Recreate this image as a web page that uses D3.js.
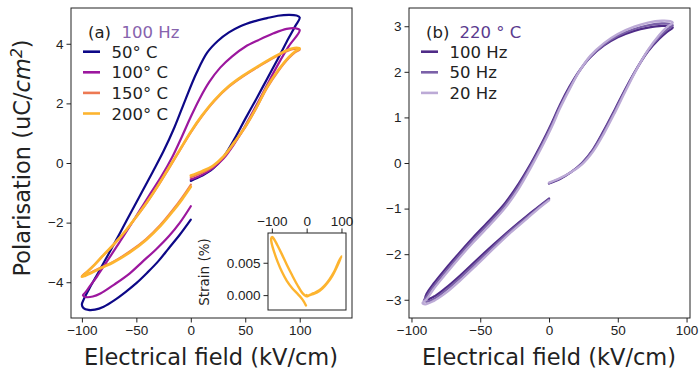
<!DOCTYPE html>
<html>
<head>
<meta charset="utf-8">
<script src="https://cdn.jsdelivr.net/npm/d3@7"></script>
<style>
  body { margin: 0; background: #fff; }
  svg { font-family: "DejaVu Sans", sans-serif; }
  .tick text { font-size: 13.5px; fill: #222; }
  .tick line { stroke: #222; }
</style>
</head>
<body>
<svg id="chart" width="700" height="373"></svg>
<script>
// ---- panel (a): 100 Hz, temperature series  [E (kV/cm), P (uC/cm2)]
const loop50C = [
  [0,-0.6],[10,-0.43],[20,-0.2],[30,0.2],[40,0.8],[50,1.48],[60,2.14],[70,2.82],[80,3.5],[90,4.2],[96,4.6],[100,4.88],
  [97,4.95],[90,4.97],[80,4.94],[70,4.86],[58,4.75],[45,4.58],[35,4.38],[25,4.1],[15,3.7],[5,3.0],[-5,2.12],[-15,1.2],
  [-25,0.4],[-35,-0.3],[-45,-0.98],[-55,-1.66],[-65,-2.35],[-75,-3.02],[-85,-3.68],[-93,-4.2],[-98,-4.55],[-100,-4.75],
  [-98.5,-4.87],[-94,-4.93],[-88,-4.92],[-80,-4.82],[-70,-4.6],[-60,-4.33],[-50,-4.03],[-40,-3.68],[-30,-3.3],
  [-20,-2.85],[-10,-2.4],[0,-1.9]
];
const loop100C = [
  [0,-0.55],[10,-0.4],[20,-0.18],[30,0.15],[40,0.65],[50,1.25],[60,1.92],[70,2.62],[80,3.3],[90,3.92],[100,4.46],
  [96,4.52],[88,4.5],[76,4.35],[62,4.12],[50,3.9],[38,3.58],[27,3.2],[17,2.72],[8,2.15],[0,1.55],[-8,0.9],[-17,0.2],
  [-27,-0.45],[-37,-1.02],[-47,-1.6],[-57,-2.18],[-67,-2.75],[-77,-3.3],[-86,-3.8],[-93,-4.15],[-97,-4.35],[-99,-4.44],
  [-96,-4.5],[-90,-4.48],[-83,-4.38],[-70,-4.07],[-56,-3.7],[-44,-3.3],[-32,-2.9],[-20,-2.45],[-10,-2.0],[0,-1.45]
];
const loop150C = [
  [0,-0.48],[10,-0.33],[20,-0.13],[30,0.2],[40,0.67],[50,1.2],[60,1.83],[70,2.52],[80,3.07],[90,3.52],[96,3.72],[100,3.8],
  [95,3.83],[88,3.75],[76,3.53],[62,3.23],[48,2.91],[35,2.56],[22,2.1],[10,1.56],[0,1.03],[-10,0.43],[-20,-0.17],
  [-30,-0.76],[-40,-1.31],[-50,-1.81],[-60,-2.29],[-70,-2.71],[-80,-3.09],[-88,-3.4],[-95,-3.64],[-99,-3.76],[-100,-3.8],
  [-97,-3.76],[-92,-3.68],[-82,-3.5],[-71,-3.31],[-56,-2.97],[-41,-2.55],[-28,-2.08],[-16,-1.55],[-8,-1.16],[0,-0.73]
];
const loop200C = [
  [0,-0.42],[10,-0.28],[20,-0.1],[30,0.22],[40,0.7],[50,1.22],[60,1.85],[70,2.55],[80,3.1],[90,3.55],[96,3.75],[100,3.84],
  [95,3.86],[88,3.78],[76,3.55],[62,3.25],[48,2.93],[35,2.58],[22,2.12],[10,1.58],[0,1.05],[-10,0.45],[-20,-0.15],
  [-30,-0.75],[-40,-1.3],[-50,-1.8],[-60,-2.28],[-70,-2.7],[-80,-3.08],[-88,-3.4],[-95,-3.65],[-99,-3.78],[-100,-3.82],
  [-97,-3.78],[-92,-3.7],[-82,-3.52],[-71,-3.33],[-56,-3.0],[-41,-2.58],[-28,-2.12],[-16,-1.6],[-8,-1.22],[0,-0.8]
];
const tempLabels = ["50° C", "100° C", "150° C", "200° C"];
const tempColors = ["#0d0887", "#9c179e", "#ed7953", "#fdb42f"];

// ---- inset: strain at 200 C  [E (kV/cm), strain (%)]
const strain200C = [
  [0,0.0],[3,-0.0001],[15,0.0001],[30,0.0004],[45,0.001],[60,0.0019],[75,0.0031],[88,0.0045],[100,0.006],
  [92,0.0052],[80,0.0037],[65,0.0024],[50,0.0014],[35,0.0007],[20,0.0003],[8,0.0],[0,-0.0002],
  [-12,0.0003],[-27,0.0016],[-42,0.0031],[-57,0.0047],[-71,0.0063],[-84,0.0077],[-93,0.0086],[-99,0.009],
  [-102,0.0087],[-100,0.0079],[-93,0.0066],[-83,0.0051],[-71,0.0036],[-57,0.0022],[-42,0.0011],[-28,0.0003],
  [-16,-0.0004],[-8,-0.001],[-2,-0.0016]
];

// ---- panel (b): 220 C, frequency series
const loop100Hz = [
  [0,-0.45],[8,-0.35],[16,-0.2],[24,0.0],[32,0.3],[40,0.72],[48,1.18],[56,1.65],[64,2.08],[72,2.45],[80,2.72],[86,2.88],[90,2.97],
  [88,3.0],[82,3.01],[72,2.97],[62,2.9],[50,2.76],[40,2.58],[30,2.32],[22,2.02],[15,1.68],[8,1.28],[2,0.88],[-5,0.45],[-13,0.0],
  [-22,-0.45],[-32,-0.88],[-43,-1.25],[-55,-1.63],[-66,-2.0],[-76,-2.35],[-84,-2.65],[-89,-2.87],[-90,-2.97],
  [-88,-2.99],[-83,-2.92],[-75,-2.74],[-65,-2.48],[-53,-2.14],[-40,-1.78],[-28,-1.46],[-16,-1.16],[-8,-0.97],[0,-0.78]
];
const loop50Hz = [
  [0,-0.44],[8,-0.34],[16,-0.2],[24,-0.01],[32,0.28],[40,0.69],[48,1.15],[56,1.63],[64,2.08],[72,2.47],[80,2.76],[86,2.93],[90,3.02],
  [88,3.05],[82,3.06],[72,3.02],[62,2.94],[50,2.79],[40,2.6],[30,2.33],[22,2.01],[15,1.65],[8,1.24],[2,0.84],[-5,0.41],[-13,-0.04],
  [-22,-0.5],[-32,-0.93],[-43,-1.3],[-55,-1.68],[-66,-2.05],[-76,-2.41],[-84,-2.71],[-89,-2.93],[-91,-3.02],
  [-89,-3.04],[-83,-2.97],[-75,-2.79],[-65,-2.53],[-53,-2.19],[-40,-1.82],[-28,-1.49],[-16,-1.19],[-8,-0.99],[0,-0.8]
];
const loop20Hz = [
  [0,-0.43],[8,-0.33],[16,-0.2],[24,-0.03],[32,0.25],[40,0.65],[48,1.11],[56,1.6],[64,2.07],[72,2.48],[80,2.8],[86,2.99],[90,3.08],
  [88,3.11],[82,3.12],[72,3.08],[62,2.99],[50,2.83],[40,2.63],[30,2.35],[22,2.01],[15,1.62],[8,1.2],[2,0.79],[-5,0.36],[-13,-0.09],
  [-22,-0.56],[-32,-0.99],[-43,-1.36],[-55,-1.74],[-66,-2.11],[-76,-2.47],[-84,-2.77],[-89,-2.99],[-92,-3.07],
  [-90,-3.1],[-84,-3.03],[-75,-2.85],[-65,-2.59],[-53,-2.25],[-40,-1.87],[-28,-1.53],[-16,-1.22],[-8,-1.01],[0,-0.82]
];
const freqLabels = ["100 Hz", "50 Hz", "20 Hz"];
const freqColors = ["#4f2b87", "#7b61a8", "#bcaad6"];

const xTicks = [-100, -50, 0, 50, 100];
const yTicksA = [-4, -2, 0, 2, 4];
const yTicksB = [-3, -2, -1, 0, 1, 2, 3];
const xTicksInset = [-100, 0, 100];
const yTicksInset = [0, 0.005];

const svg = d3.select("#chart");

// scales
const xA = d3.scaleLinear().domain([-110, 148]).range([71, 352]);
const yA = d3.scaleLinear().domain([-5.2, 5.2]).range([318, 8]);
const xB = d3.scaleLinear().domain([-101.8, 102.5]).range([409, 690]);
const yB = d3.scaleLinear().domain([-3.4, 3.4]).range([318, 8]);
const xI = d3.scaleLinear().domain([-111, 113]).range([268, 346]);
const yI = d3.scaleLinear().domain([-0.0023, 0.0096]).range([310, 233]);

// clip for the inset
svg.append("defs").append("clipPath").attr("id", "clipInset")
    .append("rect").attr("x", 268).attr("y", 233).attr("width", 78).attr("height", 77);

function drawLoop(x, y, data, color, width, clip) {
    const line = d3.line()
        .x(d => x(d[0]))
        .y(d => y(d[1]))
        .curve(d3.curveCatmullRom.alpha(0.5));
    const p = svg.append("path")
        .datum(data)
        .attr("fill", "none")
        .attr("stroke", color)
        .attr("stroke-width", width)
        .attr("stroke-linejoin", "round")
        .attr("stroke-linecap", "round")
        .attr("d", line);
    if (clip) p.attr("clip-path", "url(#" + clip + ")");
}

function frame(x, y) {
    svg.append("rect")
        .attr("x", x.range()[0]).attr("y", y.range()[1])
        .attr("width", x.range()[1] - x.range()[0])
        .attr("height", y.range()[0] - y.range()[1])
        .attr("fill", "none").attr("stroke", "#222").attr("stroke-width", 1);
}

function axes(x, y, xt, yt, opts) {
    const fmt = opts.yFormat || d3.format("d");
    const gx = svg.append("g")
        .attr("transform", "translate(0," + (opts.xTop ? y.range()[1] : y.range()[0]) + ")")
        .call((opts.xTop ? d3.axisTop(x) : d3.axisBottom(x)).tickValues(xt).tickFormat(d3.format("d")).tickSize(4.5).tickPadding(3));
    gx.select(".domain").remove();
    const gy = svg.append("g")
        .attr("transform", "translate(" + x.range()[0] + ",0)")
        .call(d3.axisLeft(y).tickValues(yt).tickFormat(fmt).tickSize(4.5).tickPadding(3));
    gy.select(".domain").remove();
}

// panel (a)
const loopsA = [loop50C, loop100C, loop150C, loop200C];
loopsA.forEach((d, i) => drawLoop(xA, yA, d, tempColors[i], i === 3 ? 2.6 : 2.2));
frame(xA, yA);
axes(xA, yA, xTicks, yTicksA, {});

// inset
svg.append("rect")
    .attr("x", 268).attr("y", 233).attr("width", 78).attr("height", 77)
    .attr("fill", "#fff");
drawLoop(xI, yI, strain200C, tempColors[3], 2.4, "clipInset");
frame(xI, yI);
axes(xI, yI, xTicksInset, yTicksInset, {xTop: true, yFormat: d3.format(".3f")});
svg.append("text")
    .attr("transform", "translate(209,272) rotate(-90)")
    .attr("text-anchor", "middle")
    .style("font-size", "13.5px").attr("fill", "#222")
    .text("Strain (%)");

// panel (b)
const loopsB = [loop100Hz, loop50Hz, loop20Hz];
loopsB.forEach((d, i) => drawLoop(xB, yB, d, freqColors[i], 2.3));
frame(xB, yB);
axes(xB, yB, xTicks, yTicksB, {});

// legends
function legend(x0, title, value, valueColor, labels, colors) {
    svg.append("text").attr("x", x0 + 5).attr("y", 37.5)
        .style("font-size", "16.5px").attr("fill", "#222").text(title);
    svg.append("text").attr("x", x0 + 38.5).attr("y", 37.5)
        .style("font-size", "16.5px").attr("fill", valueColor).text(value);
    labels.forEach((t, i) => {
        const cy = 51.7 + i * 20.6;
        svg.append("line")
            .attr("x1", x0).attr("x2", x0 + 17).attr("y1", cy).attr("y2", cy)
            .attr("stroke", colors[i]).attr("stroke-width", 2.6);
        svg.append("text").attr("x", x0 + 28.5).attr("y", cy + 6)
            .style("font-size", "16.5px").attr("fill", "#222").text(t);
    });
}
legend(83, "(a)", "100 Hz", "#8763ad", tempLabels, tempColors);
legend(421, "(b)", "220 ° C", "#5b3a8e", freqLabels, freqColors);

// axis titles
svg.append("text").attr("x", 211).attr("y", 365).attr("text-anchor", "middle")
    .style("font-size", "22.5px").attr("fill", "#222").text("Electrical field (kV/cm)");
svg.append("text").attr("x", 549).attr("y", 365).attr("text-anchor", "middle")
    .style("font-size", "22.5px").attr("fill", "#222").text("Electrical field (kV/cm)");
const yl = svg.append("text")
    .attr("transform", "translate(30,158) rotate(-90)")
    .attr("text-anchor", "middle")
    .style("font-size", "22.5px").attr("fill", "#222");
yl.append("tspan").text("Polarisation (uC/");
yl.append("tspan").style("font-style", "italic").text("cm");
yl.append("tspan").attr("dy", "-8").style("font-size", "15.5px").style("font-style", "italic").text("2");
yl.append("tspan").attr("dy", "8").text(")");
</script>
</body>
</html>
